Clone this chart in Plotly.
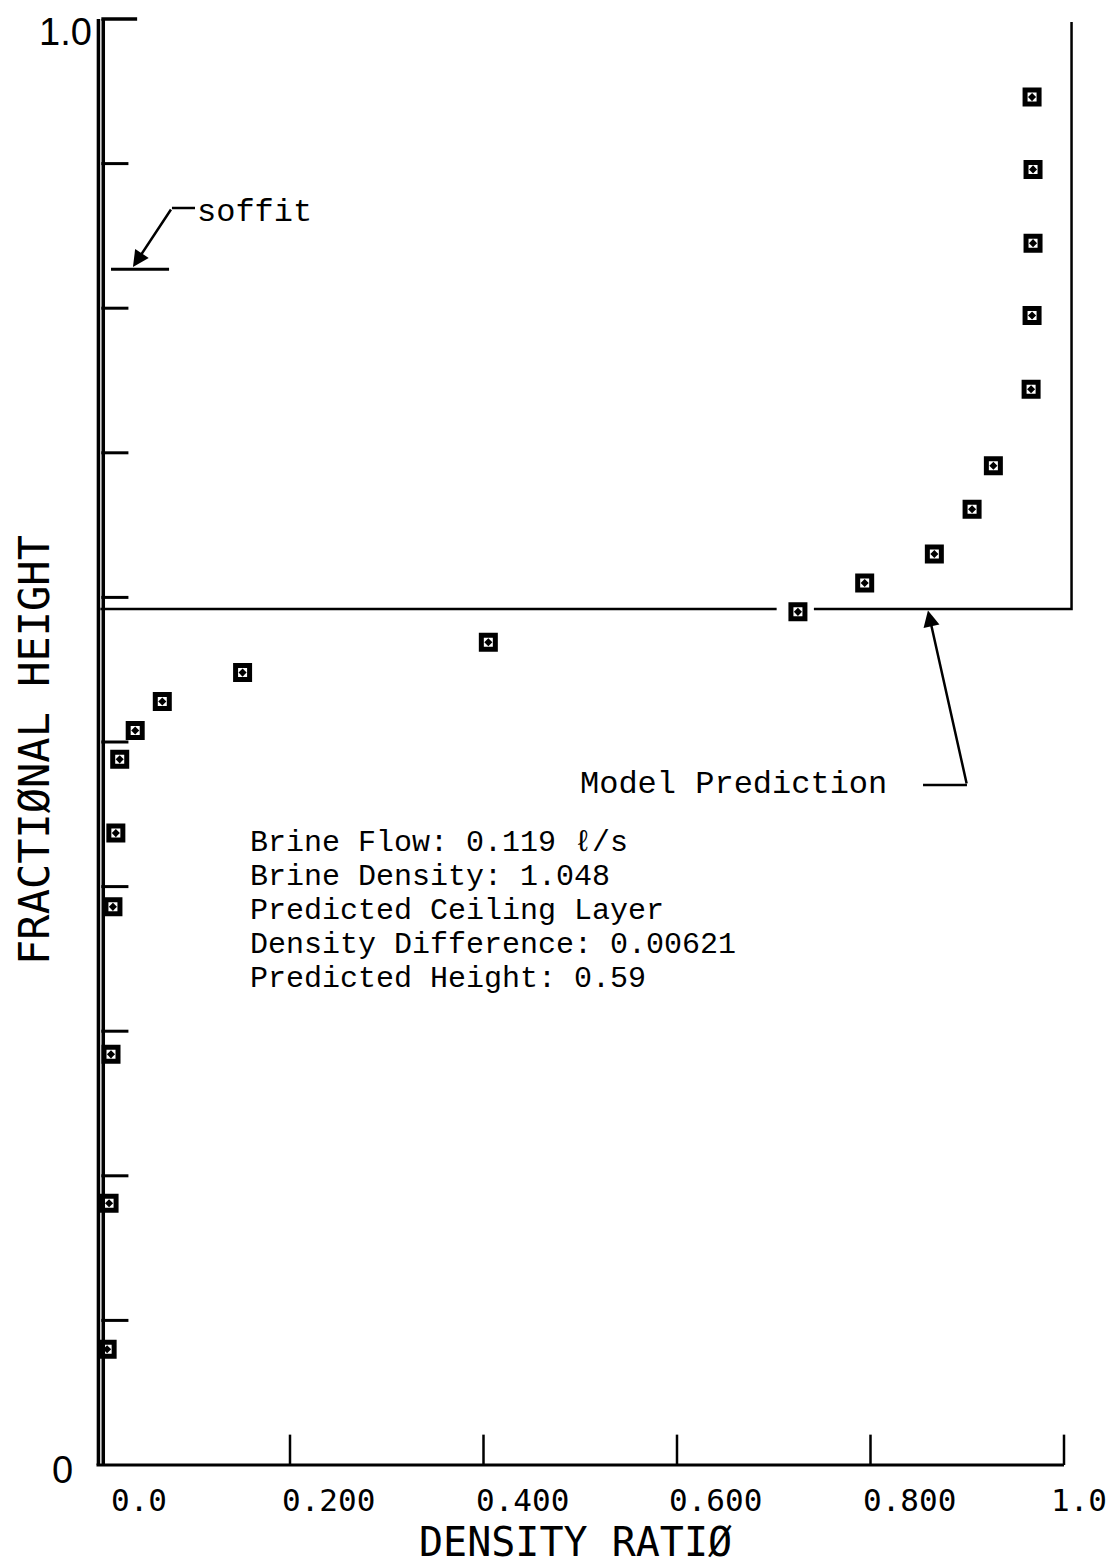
import plotly.graph_objects as go

# ---- data ----
density_ratio = [0.967, 0.968, 0.968, 0.967, 0.966, 0.927, 0.905, 0.866, 0.794, 0.725,
                 0.405, 0.151, 0.068, 0.040, 0.024, 0.020, 0.017, 0.015, 0.013, 0.011]
fractional_height = [0.946, 0.896, 0.845, 0.795, 0.744, 0.691, 0.661, 0.630, 0.610, 0.590,
                     0.569, 0.548, 0.528, 0.508, 0.488, 0.437, 0.386, 0.284, 0.181, 0.080]

model_x = [0.004, 0.703, None, 0.7415, 1.0078, 1.0078]
model_y = [0.592, 0.592, None, 0.592, 0.592, 0.998]

x_tick_vals = [0.0, 0.2, 0.4, 0.6, 0.8, 1.0]
x_tick_text = ["0.0", "0.200", "0.400", "0.600", "0.800", "1.0"]
y_tick_vals = [0.1, 0.2, 0.3, 0.4, 0.5, 0.6, 0.7, 0.8, 0.9]
soffit_height = 0.827

info_lines = ["Brine Flow: 0.119 ℓ/s",
              "Brine Density: 1.048",
              "Predicted Ceiling Layer",
              "Density Difference: 0.00621",
              "Predicted Height: 0.59"]

# ---- styling ----
INK = "black"
MONO = "Liberation Mono, Courier New, monospace"
PLOT = "DejaVu Sans Mono, monospace"

fig = go.Figure()

fig.add_trace(go.Scatter(x=model_x, y=model_y, mode="lines",
                         line=dict(color=INK, width=2.5), showlegend=False,
                         hoverinfo="skip"))
fig.add_trace(go.Scatter(x=density_ratio, y=fractional_height, mode="markers",
                         marker=dict(symbol="square-open-dot", size=14, color=INK,
                                     line=dict(color=INK, width=5)),
                         showlegend=False))

shapes = []
# y axis (double line)
for xv in (0.002, 0.007):
    shapes.append(dict(type="line", xref="x", yref="y", x0=xv, x1=xv, y0=0, y1=1,
                       line=dict(color=INK, width=3.5)))
# top tick at 1.0
shapes.append(dict(type="line", xref="x", yref="y", x0=0.005, x1=0.042, y0=1, y1=1,
                   line=dict(color=INK, width=3.5)))
# inner y ticks
for yv in y_tick_vals:
    shapes.append(dict(type="line", xref="x", yref="y", x0=0.005, x1=0.033, y0=yv, y1=yv,
                       line=dict(color=INK, width=3)))
# x axis
shapes.append(dict(type="line", xref="x", yref="y", x0=0.0, x1=1.0, y0=0, y1=0,
                   line=dict(color=INK, width=3)))
for xv in x_tick_vals[1:]:
    shapes.append(dict(type="line", xref="x", yref="y", x0=xv, x1=xv, y0=0, y1=0.021,
                       line=dict(color=INK, width=2.5)))
# soffit mark
shapes.append(dict(type="line", xref="x", yref="y", x0=0.015, x1=0.075,
                   y0=soffit_height, y1=soffit_height, line=dict(color=INK, width=3)))
# leaders
shapes.append(dict(type="line", xref="x", yref="y", x0=0.078, x1=0.1018,
                   y0=0.8693, y1=0.8693, line=dict(color=INK, width=2.5)))
shapes.append(dict(type="line", xref="x", yref="y", x0=0.8543, x1=0.8997,
                   y0=0.4703, y1=0.4703, line=dict(color=INK, width=2.5)))

annotations = []
# x tick labels
x_shifts = [12, -10, -10, -10, -10, -15]
for v, t, s in zip(x_tick_vals, x_tick_text, x_shifts):
    annotations.append(dict(x=v, y=-0.0242, xref="x", yref="y", text=t, showarrow=False,
                            xanchor="left", yanchor="middle", xshift=s,
                            font=dict(family=PLOT, size=31, color=INK)))
# y end labels
annotations.append(dict(x=-0.003, y=1.0069, xref="x", yref="y", text="1.0", showarrow=False,
                        xanchor="right", yanchor="top",
                        font=dict(family="Liberation Sans, Arial", size=38, color=INK)))
annotations.append(dict(x=-0.022, y=-0.0035, xref="x", yref="y", text="0", showarrow=False,
                        xanchor="right", yanchor="middle",
                        font=dict(family="Liberation Sans, Arial", size=38, color=INK)))
# axis titles
annotations.append(dict(x=0.4946, y=-0.0535, xref="x", yref="y", text="DENSITY RATIØ",
                        showarrow=False, xanchor="center", yanchor="middle",
                        font=dict(family=PLOT, size=40, color=INK)))
annotations.append(dict(x=-0.0636, y=0.4945, xref="x", yref="y",
                        text="FRACTIØNAL HEIGHT", showarrow=False, textangle=-90,
                        xanchor="center", yanchor="middle",
                        font=dict(family=PLOT, size=42, color=INK)))
# info block
info_y = [0.4299, 0.4064, 0.3829, 0.3594, 0.3359]
for line, yv in zip(info_lines, info_y):
    annotations.append(dict(x=0.1566, y=yv, xref="x", yref="y", text=line, showarrow=False,
                            xanchor="left", yanchor="middle",
                            font=dict(family=MONO, size=30, color=INK)))
# soffit label + arrow
annotations.append(dict(x=0.1018, y=0.8665, xref="x", yref="y", text="soffit",
                        showarrow=False, xanchor="left", yanchor="middle",
                        font=dict(family=MONO, size=32, color=INK)))
annotations.append(dict(x=0.0377, y=0.8285, ax=0.078, ay=0.8693, xref="x", yref="y",
                        axref="x", ayref="y", text="", showarrow=True, arrowhead=2,
                        arrowsize=1.3, arrowwidth=2.5, arrowcolor=INK))
# model prediction label + arrow
annotations.append(dict(x=0.4977, y=0.4703, xref="x", yref="y", text="Model Prediction",
                        showarrow=False, xanchor="left", yanchor="middle",
                        font=dict(family=MONO, size=32, color=INK)))
annotations.append(dict(x=0.8594, y=0.591, ax=0.8997, ay=0.4703, xref="x", yref="y",
                        axref="x", ayref="y", text="", showarrow=True, arrowhead=2,
                        arrowsize=1.3, arrowwidth=2.5, arrowcolor=INK))

# plot area covers the whole figure; ranges chosen so the page (offset 8 px
# by the browser's body margin) lines up with the reference
fig.update_layout(
    width=1116, height=1566, autosize=False,
    margin=dict(l=0, r=0, t=0, b=0, pad=0),
    paper_bgcolor="white", plot_bgcolor="white",
    xaxis=dict(range=[-0.09147, 1.06202], visible=False, showgrid=False, zeroline=False),
    yaxis=dict(range=[-0.07538, 1.00761], visible=False, showgrid=False, zeroline=False),
    shapes=shapes, annotations=annotations, showlegend=False,
)

fig.write_html("out.html")
